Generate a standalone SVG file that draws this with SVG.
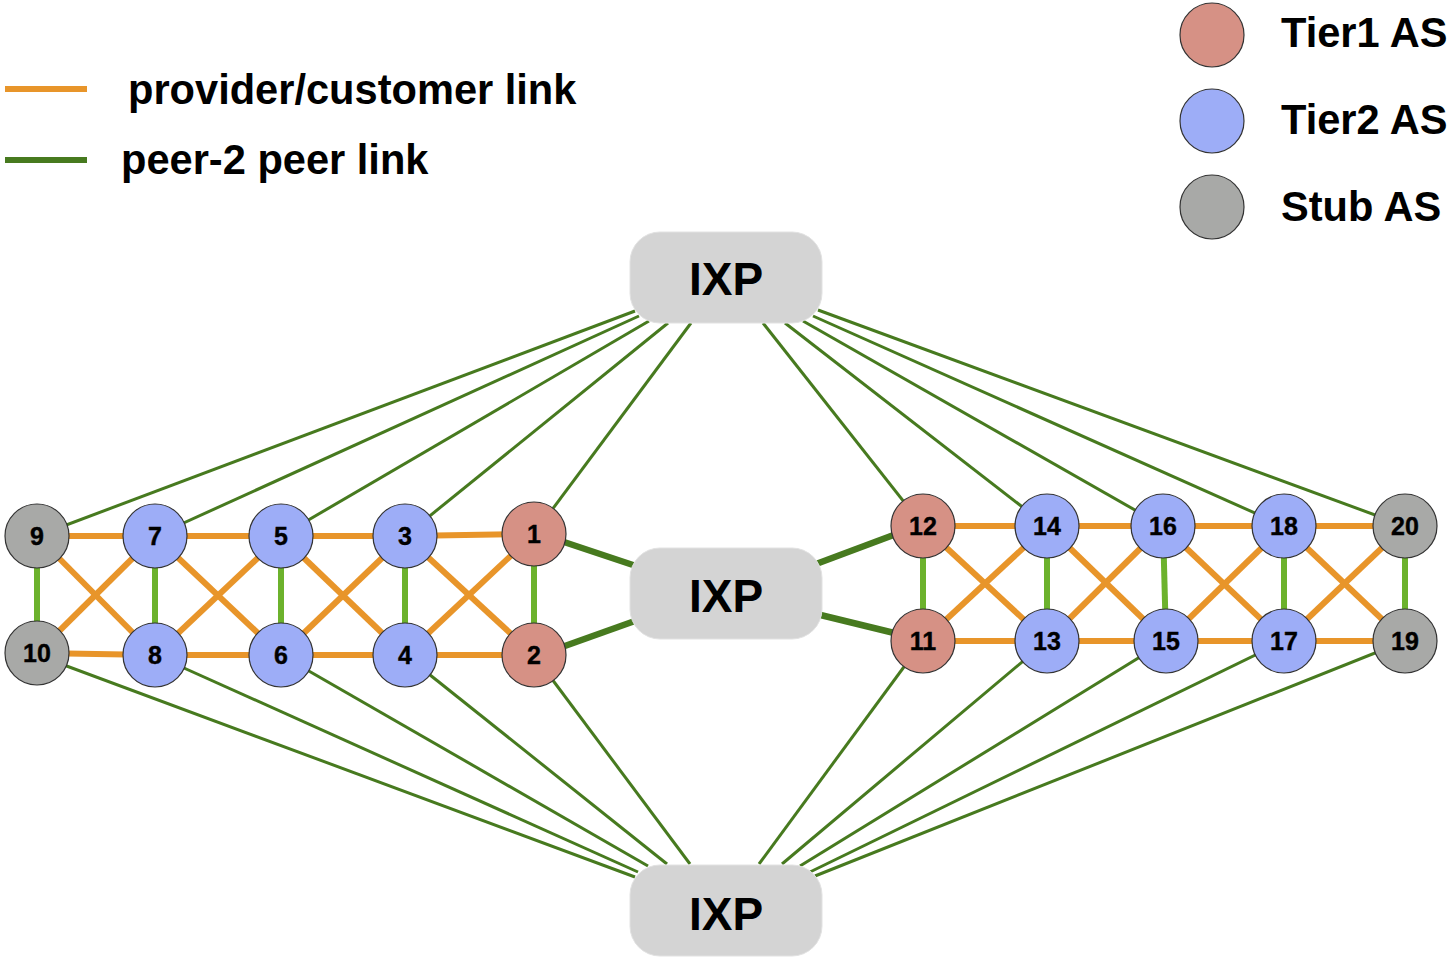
<svg xmlns="http://www.w3.org/2000/svg" width="1447" height="958" viewBox="0 0 1447 958">
<style>
.pc{stroke:#e8952a;stroke-width:6;fill:none}
.pp{stroke:#6cb22c;stroke-width:6;fill:none}
.ix{stroke:#477a1f;stroke-width:3;fill:none}
.ixt{stroke:#477a1f;stroke-width:6.5;fill:none}
.t1{fill:#d69185;stroke:#333;stroke-width:1.2}
.t2{fill:#9dadf7;stroke:#333;stroke-width:1.2}
.st{fill:#a8a9a7;stroke:#333;stroke-width:1.2}
.nl{font-family:"Liberation Sans",Arial,sans-serif;font-weight:bold;font-size:25px;text-anchor:middle;fill:#000;stroke:#000;stroke-width:0.4}
.ixp{fill:#d4d4d4;stroke:#e2e2e2;stroke-width:1}
.ixl{font-family:"Liberation Sans",Arial,sans-serif;font-weight:bold;font-size:46px;text-anchor:middle;fill:#000}
.lg{font-family:"Liberation Sans",Arial,sans-serif;font-weight:bold;font-size:41.6px;fill:#000}
</style>
<rect width="1447" height="958" fill="#fff"/>
<g id="legend">
<line x1="5" y1="89" x2="87" y2="89" class="pc"/>
<text x="128" y="104" class="lg">provider/customer link</text>
<line x1="5" y1="160" x2="87" y2="160" stroke="#477a1f" stroke-width="6"/>
<text x="121" y="174" class="lg">peer-2 peer link</text>
<circle cx="1212" cy="35" r="32" class="t1"/>
<text x="1281" y="47" class="lg">Tier1 AS</text>
<circle cx="1212" cy="121" r="32" class="t2"/>
<text x="1281" y="134" class="lg">Tier2 AS</text>
<circle cx="1212" cy="207" r="32" class="st"/>
<text x="1281" y="221" class="lg">Stub AS</text>
</g>
<g id="connectors">
<line x1="37" y1="536" x2="635" y2="311" class="ix"/>
<line x1="155" y1="536" x2="639" y2="316" class="ix"/>
<line x1="281" y1="536" x2="649" y2="321" class="ix"/>
<line x1="405" y1="536" x2="668" y2="323" class="ix"/>
<line x1="534" y1="534" x2="691" y2="323" class="ix"/>
<line x1="923" y1="526" x2="763" y2="323" class="ix"/>
<line x1="1047" y1="526" x2="785" y2="323" class="ix"/>
<line x1="1163" y1="526" x2="803" y2="321" class="ix"/>
<line x1="1284" y1="526" x2="813" y2="316" class="ix"/>
<line x1="1405" y1="526" x2="818" y2="310" class="ix"/>
<line x1="37" y1="655" x2="635" y2="877" class="ix"/>
<line x1="155" y1="655" x2="638" y2="872" class="ix"/>
<line x1="281" y1="655" x2="648" y2="866" class="ix"/>
<line x1="405" y1="655" x2="667" y2="864" class="ix"/>
<line x1="534" y1="655" x2="690" y2="864" class="ix"/>
<line x1="923" y1="641" x2="759" y2="864" class="ix"/>
<line x1="1047" y1="641" x2="782" y2="864" class="ix"/>
<line x1="1166" y1="641" x2="800" y2="866" class="ix"/>
<line x1="1284" y1="641" x2="810" y2="872" class="ix"/>
<line x1="1405" y1="641" x2="815" y2="876" class="ix"/>
<line x1="534" y1="532" x2="660" y2="574" class="ixt"/>
<line x1="534" y1="657" x2="660" y2="612" class="ixt"/>
<line x1="923" y1="524" x2="800" y2="570" class="ixt"/>
<line x1="923" y1="640" x2="800" y2="610" class="ixt"/>
<line x1="37" y1="536" x2="155" y2="536" class="pc"/>
<line x1="155" y1="536" x2="281" y2="536" class="pc"/>
<line x1="281" y1="536" x2="405" y2="536" class="pc"/>
<line x1="405" y1="536" x2="534" y2="534" class="pc"/>
<line x1="37" y1="653" x2="155" y2="655" class="pc"/>
<line x1="155" y1="655" x2="281" y2="655" class="pc"/>
<line x1="281" y1="655" x2="405" y2="655" class="pc"/>
<line x1="405" y1="655" x2="534" y2="655" class="pc"/>
<line x1="37" y1="536" x2="155" y2="655" class="pc"/>
<line x1="37" y1="653" x2="155" y2="536" class="pc"/>
<line x1="155" y1="536" x2="281" y2="655" class="pc"/>
<line x1="155" y1="655" x2="281" y2="536" class="pc"/>
<line x1="281" y1="536" x2="405" y2="655" class="pc"/>
<line x1="281" y1="655" x2="405" y2="536" class="pc"/>
<line x1="405" y1="536" x2="534" y2="655" class="pc"/>
<line x1="405" y1="655" x2="534" y2="534" class="pc"/>
<line x1="37" y1="536" x2="37" y2="653" class="pp"/>
<line x1="155" y1="536" x2="155" y2="655" class="pp"/>
<line x1="281" y1="536" x2="281" y2="655" class="pp"/>
<line x1="405" y1="536" x2="405" y2="655" class="pp"/>
<line x1="534" y1="534" x2="534" y2="655" class="pp"/>
<line x1="923" y1="526" x2="1047" y2="526" class="pc"/>
<line x1="1047" y1="526" x2="1163" y2="526" class="pc"/>
<line x1="1163" y1="526" x2="1284" y2="526" class="pc"/>
<line x1="1284" y1="526" x2="1405" y2="526" class="pc"/>
<line x1="923" y1="641" x2="1047" y2="641" class="pc"/>
<line x1="1047" y1="641" x2="1166" y2="641" class="pc"/>
<line x1="1166" y1="641" x2="1284" y2="641" class="pc"/>
<line x1="1284" y1="641" x2="1405" y2="641" class="pc"/>
<line x1="923" y1="526" x2="1047" y2="641" class="pc"/>
<line x1="923" y1="641" x2="1047" y2="526" class="pc"/>
<line x1="1047" y1="526" x2="1166" y2="641" class="pc"/>
<line x1="1047" y1="641" x2="1163" y2="526" class="pc"/>
<line x1="1163" y1="526" x2="1284" y2="641" class="pc"/>
<line x1="1166" y1="641" x2="1284" y2="526" class="pc"/>
<line x1="1284" y1="526" x2="1405" y2="641" class="pc"/>
<line x1="1284" y1="641" x2="1405" y2="526" class="pc"/>
<line x1="923" y1="526" x2="923" y2="641" class="pp"/>
<line x1="1047" y1="526" x2="1047" y2="641" class="pp"/>
<line x1="1163" y1="526" x2="1166" y2="641" class="pp"/>
<line x1="1284" y1="526" x2="1284" y2="641" class="pp"/>
<line x1="1405" y1="526" x2="1405" y2="641" class="pp"/>
</g>
<g id="ixp-top"><rect x="630" y="232" width="192" height="91" rx="30" class="ixp"/><text x="726" y="295" class="ixl">IXP</text></g>
<g id="ixp-mid"><rect x="630" y="548" width="192" height="91" rx="30" class="ixp"/><text x="726" y="612" class="ixl">IXP</text></g>
<g id="ixp-bottom"><rect x="630" y="865" width="192" height="91" rx="30" class="ixp"/><text x="726" y="930" class="ixl">IXP</text></g>
<g id="n9"><circle cx="37" cy="536" r="32" class="st"/><text x="37" y="545" class="nl">9</text></g>
<g id="n7"><circle cx="155" cy="536" r="32" class="t2"/><text x="155" y="545" class="nl">7</text></g>
<g id="n5"><circle cx="281" cy="536" r="32" class="t2"/><text x="281" y="545" class="nl">5</text></g>
<g id="n3"><circle cx="405" cy="536" r="32" class="t2"/><text x="405" y="545" class="nl">3</text></g>
<g id="n1"><circle cx="534" cy="534" r="32" class="t1"/><text x="534" y="543" class="nl">1</text></g>
<g id="n10"><circle cx="37" cy="653" r="32" class="st"/><text x="37" y="662" class="nl">10</text></g>
<g id="n8"><circle cx="155" cy="655" r="32" class="t2"/><text x="155" y="664" class="nl">8</text></g>
<g id="n6"><circle cx="281" cy="655" r="32" class="t2"/><text x="281" y="664" class="nl">6</text></g>
<g id="n4"><circle cx="405" cy="655" r="32" class="t2"/><text x="405" y="664" class="nl">4</text></g>
<g id="n2"><circle cx="534" cy="655" r="32" class="t1"/><text x="534" y="664" class="nl">2</text></g>
<g id="n12"><circle cx="923" cy="526" r="32" class="t1"/><text x="923" y="535" class="nl">12</text></g>
<g id="n14"><circle cx="1047" cy="526" r="32" class="t2"/><text x="1047" y="535" class="nl">14</text></g>
<g id="n16"><circle cx="1163" cy="526" r="32" class="t2"/><text x="1163" y="535" class="nl">16</text></g>
<g id="n18"><circle cx="1284" cy="526" r="32" class="t2"/><text x="1284" y="535" class="nl">18</text></g>
<g id="n20"><circle cx="1405" cy="526" r="32" class="st"/><text x="1405" y="535" class="nl">20</text></g>
<g id="n11"><circle cx="923" cy="641" r="32" class="t1"/><text x="923" y="650" class="nl">11</text></g>
<g id="n13"><circle cx="1047" cy="641" r="32" class="t2"/><text x="1047" y="650" class="nl">13</text></g>
<g id="n15"><circle cx="1166" cy="641" r="32" class="t2"/><text x="1166" y="650" class="nl">15</text></g>
<g id="n17"><circle cx="1284" cy="641" r="32" class="t2"/><text x="1284" y="650" class="nl">17</text></g>
<g id="n19"><circle cx="1405" cy="641" r="32" class="st"/><text x="1405" y="650" class="nl">19</text></g>
</svg>
